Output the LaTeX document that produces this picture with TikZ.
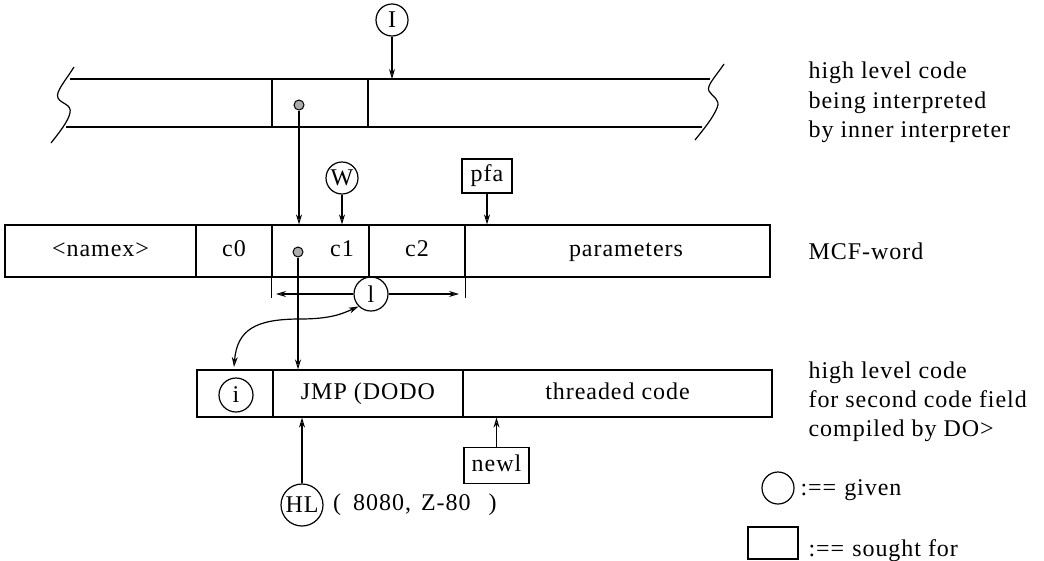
\documentclass[tikz,border=0pt]{standalone}
\usepackage{fontspec}
\setmainfont{Liberation Serif}[LetterSpace=4]
\usetikzlibrary{arrows.meta,calc}
\begin{document}
\begin{tikzpicture}[x=1pt,y=-1pt, line width=1.2pt,
  every node/.style={font=\fontsize{24}{29.5}\selectfont},
  cell/.style={draw, rectangle, inner sep=0pt, text height=17pt, text depth=6pt},
  lbl/.style={inner sep=0pt, text height=17pt, text depth=6pt},
  given/.style={draw, circle, inner sep=0pt, minimum size=32pt},
  sought/.style={draw, rectangle, inner sep=0pt, text height=16pt, text depth=5pt},
  arr/.style={-{Stealth[length=10pt,width=6pt,fill=gray!55,line width=1pt]}},
  darr/.style={{Stealth[length=10pt,width=6pt,fill=gray!55,line width=1pt]}-{Stealth[length=10pt,width=6pt,fill=gray!55,line width=1pt]}},
  dot/.style={circle, draw, fill=gray!65, inner sep=0pt, minimum size=10pt, line width=1pt},
  txt/.style={anchor=base west, inner sep=0pt}]
\useasboundingbox (0,0) rectangle (1044,560);

% ---- top band: high level code
\node[cell, minimum width=96pt, minimum height=48pt] (tc) at (320,103) {};
\coordinate (tl1) at (70,79);  \coordinate (tr1) at (710,79);
\coordinate (tl2) at (66,127); \coordinate (tr2) at (702,127);
\draw (tl1) -- (tr1);
\draw (tl2) -- (tr2);
\draw (74,67) .. controls (66,80) and (55,92) .. (58,98) .. controls (61,104) and (72,104) .. (70,113) .. controls (68,122) and (58,134) .. (51,143);
\draw (724,64) .. controls (716,76) and (706,86) .. (709,91) .. controls (712,97) and (721,99) .. (717,108) .. controls (713,118) and (703,130) .. (695,140);
\node[dot] (d1) at (299,105) {};
\node[given] (I) at (392,20) {I};
\draw[arr] (I) -- (I |- tl1);

% ---- MCF-word
\node[cell, minimum width=191pt, minimum height=52pt] (namex) at (100.5,251) {<namex>};
\node[cell, minimum width=76pt, minimum height=52pt] (c0) at (234,251) {c0};
\node[cell, minimum width=97pt, minimum height=52pt] (c1) at (320.5,251) {};
\node[cell, minimum width=96pt, minimum height=52pt] (c2) at (417,251) {c2};
\node[cell, minimum width=305pt, minimum height=52pt] (par) at (617.5,251) {};
\node[lbl] (c1t) at (342,251) {c1};
\node[lbl] (part) at (626,251) {parameters};
\node[dot] (d2) at (298,252) {};

\draw[arr] (d1) -- (d1 |- c1.north);
\node[given] (W) at (342,178) {W};
\draw[arr] (W) -- (W |- c1.north);
\node[sought, minimum width=50pt, minimum height=34pt] (pfa) at (487,176) {pfa};
\draw[arr] (pfa) -- (pfa |- par.north);

% ---- length l
\coordinate (t1) at ($(c1.south west)+(0,20)$);
\coordinate (t2) at ($(c2.south east)+(0,20)$);
\draw (c1.south west) -- (t1);
\draw (c2.south east) -- (t2);
\node[given, minimum size=34pt] (l) at (371,294) {l};
\coordinate (la) at (276,294);
\coordinate (lb) at (459,294);
\draw[arr] (l) -- (la);
\draw[arr] (l) -- (lb);

% ---- second code field
\node[cell, minimum width=76pt, minimum height=47pt] (ic) at (235,393.5) {};
\node[cell, minimum width=190pt, minimum height=47pt] (jmp) at (368,393.5) {JMP (DODO};
\node[cell, minimum width=309pt, minimum height=47pt] (thr) at (617.5,393.5) {threaded code};
\node[given, minimum size=34pt] (i) at (236,395) {i};

\draw[arr] (d2) -- (d2 |- jmp.north);
\coordinate (itop) at (234,367);
\draw[darr] (itop) .. controls (237,330) and (255,319) .. (300,319) .. controls (330,319) and (342,314) .. (l.south west);

\node[given, minimum size=42pt] (HL) at (302,505) {HL};
\draw[arr] (HL) -- (HL |- jmp.south);
\node[anchor=west, inner sep=0pt] (cpu) at ($(HL.east)+(9,0)$) {(\hspace{12pt}8080,\hspace{10pt}Z-80\hspace{18pt})};
\node[sought, minimum width=65pt, minimum height=36pt] (newl) at (496.5,465.5) {newl};
\draw[arr] (newl) -- (newl |- thr.south);

% ---- right-hand captions
\node[txt] (r1a) at (808,78) {high level code};
\node[txt] (r1b) at (808,108) {being interpreted};
\node[txt] (r1c) at (808,137) {by inner interpreter};
\node[txt] (r2) at (808,259) {MCF-word};
\node[txt] (r3a) at (808,378) {high level code};
\node[txt] (r3b) at (808,407) {for second code field};
\node[txt] (r3c) at (808,436) {compiled by DO>};

% ---- legend
\node[given] (lg) at (778,488) {};
\node[txt] (lgt) at (800,495) {:==\hspace{8pt}given};
\node[sought, minimum width=50pt, minimum height=32pt] (ls) at (773,543) {};
\node[txt] (lst) at (808,556) {:==\hspace{8pt}sought for};
\end{tikzpicture}
\end{document}
